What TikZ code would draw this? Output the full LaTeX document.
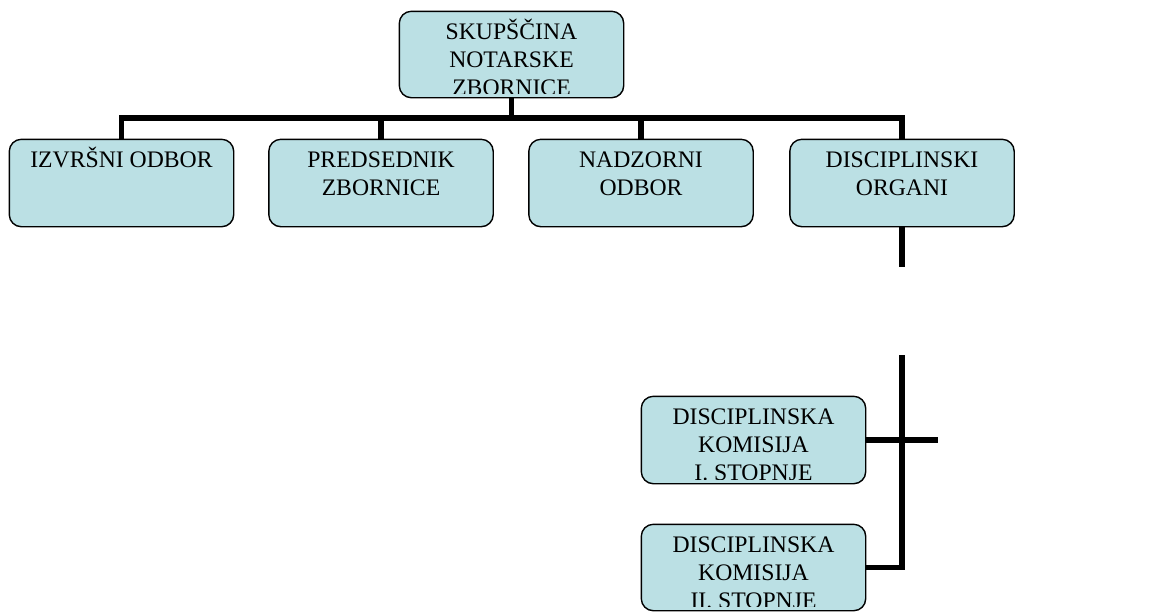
\documentclass[tikz,border=0pt]{standalone}
\usepackage{fontspec}
\setmainfont{Liberation Serif}
\newcommand\boxlines[1]{\vtop{\baselineskip=28pt\halign{\hfil##\hfil\cr#1\crcr}}}
\begin{document}
\begin{tikzpicture}[x=1pt,y=-1pt,
  orgbox/.style={draw=black,line width=1.4pt,fill=boxfill,rounded corners=12pt,
    minimum width=223pt,minimum height=86pt,inner sep=0pt},
  orgtext/.style={anchor=base,inner sep=0pt,font=\fontsize{23.7pt}{28pt}\selectfont},
  link/.style={line width=5.5pt,black}]
\definecolor{boxfill}{RGB}{187,224,228}
\useasboundingbox (0,0) rectangle (1155,611);
% box placement
\node[orgbox,minimum height=85pt] (top) at (511.5,54.5) {};
\node[orgbox] (izv) at (121.5,183) {};
\node[orgbox] (pred) at (381,183) {};
\node[orgbox] (nad) at (641,183) {};
\node[orgbox] (dis) at (902,183) {};
\node[orgbox] (k1) at (753.5,440) {};
\node[orgbox,minimum height=85pt] (k2) at (753.5,567.5) {};
% connectors
\coordinate (bar) at (0,118);
\coordinate (gapA) at (902,267);
\coordinate (gapB) at (902,355);
\coordinate (k1end) at (938,440);
\begin{scope}[on background layer/.style={}]
\draw[link] (top.south) -- (top.south |- bar);
\draw[link] (izv.north) -- (izv.north |- bar) -- (dis.north |- bar) -- (dis.north);
\draw[link] (pred.north) -- (pred.north |- bar);
\draw[link] (nad.north) -- (nad.north |- bar);
\draw[link] (dis.south) -- (gapA);
\draw[link] (gapB) -- (gapB |- k2.east) -- (k2.east);
\draw[link] (k1.east) -- (k1end);
\end{scope}
% redraw boxes on top of the lines
\foreach \b/\h in {top/85,izv/86,pred/86,nad/86,dis/86,k1/86,k2/85}{
  \path[draw=black,line width=1.4pt,fill=boxfill,rounded corners=12pt]
    (\b.north west) rectangle (\b.south east);
}
% texts
\begin{scope}
\clip (top.north west) rectangle ([yshift=4pt]top.south east);
\node[orgtext] (ttop) at ([yshift=-28pt]top.north) {\boxlines{SKUPŠČINA\cr NOTARSKE\cr ZBORNICE}};
\end{scope}
\node[orgtext] (tizv) at ([yshift=-28pt]izv.north) {\boxlines{IZVRŠNI ODBOR}};
\node[orgtext] (tpred) at ([yshift=-28pt]pred.north) {\boxlines{PREDSEDNIK\cr ZBORNICE}};
\node[orgtext] (tnad) at ([yshift=-28pt]nad.north) {\boxlines{NADZORNI\cr ODBOR}};
\node[orgtext] (tdis) at ([yshift=-28pt]dis.north) {\boxlines{DISCIPLINSKI\cr ORGANI}};
\begin{scope}
\clip (k1.north west) rectangle ([yshift=4pt]k1.south east);
\node[orgtext] (tk1) at ([yshift=-28pt]k1.north) {\boxlines{DISCIPLINSKA\cr KOMISIJA\cr I. STOPNJE}};
\end{scope}
\begin{scope}
\clip (k2.north west) rectangle ([yshift=4pt]k2.south east);
\node[orgtext] (tk2) at ([yshift=-28pt]k2.north) {\boxlines{DISCIPLINSKA\cr KOMISIJA\cr II. STOPNJE}};
\end{scope}
\end{tikzpicture}
\end{document}
